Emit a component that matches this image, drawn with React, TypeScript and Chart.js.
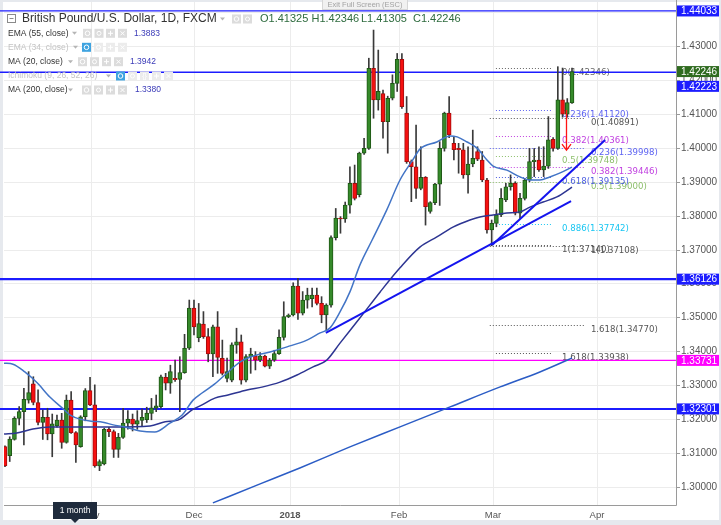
import { useEffect, useRef } from "react";
import { Chart, registerables } from "chart.js";
Chart.register(...registerables);

// ---------- DATA ----------
const opens = [
  1.3119, 1.3092, 1.3140, 1.3202, 1.3222, 1.3256, 1.3304, 1.3249, 1.3190, 1.3205,
  1.3156, 1.3180, 1.3197, 1.3131, 1.3256, 1.3160, 1.3119, 1.3207, 1.3284, 1.3242,
  1.3062, 1.3068, 1.3170, 1.3163, 1.3111, 1.3146, 1.3188, 1.3200, 1.3185, 1.3196,
  1.3198, 1.3217, 1.3232, 1.3237, 1.3323, 1.3306, 1.3320, 1.3317, 1.3337, 1.3409,
  1.3527, 1.3440, 1.3480, 1.3443, 1.3392, 1.3472, 1.3379, 1.3320, 1.3315, 1.3418,
  1.3428, 1.3315, 1.3384, 1.3386, 1.3374, 1.3386, 1.3356, 1.3374, 1.3393, 1.3441,
  1.3502, 1.3507, 1.3592, 1.3512, 1.3551, 1.3555, 1.3566, 1.3541, 1.3507, 1.3536,
  1.3735, 1.3793, 1.3790, 1.3831, 1.3895, 1.3862, 1.3984, 1.3998, 1.4234, 1.4141,
  1.4160, 1.4077, 1.4146, 1.4190, 1.4261, 1.4102, 1.3959, 1.3944, 1.3880, 1.3913,
  1.3812, 1.3838, 1.3893, 1.3998, 1.4102, 1.4013, 1.3998, 1.3994, 1.3920, 1.3952,
  1.3989, 1.3964, 1.3905, 1.3758, 1.3777, 1.3802, 1.3846, 1.3885, 1.3895, 1.3807,
  1.3851, 1.3905, 1.3959, 1.3964, 1.3935, 1.3946, 1.4025, 1.3998, 1.4141, 1.4099,
  1.41325,
];
const highs = [
  1.3121, 1.3148, 1.3207, 1.3237, 1.3291, 1.3340, 1.3325, 1.3286, 1.3227, 1.3232,
  1.3215, 1.3212, 1.3217, 1.3271, 1.3281, 1.3163, 1.3210, 1.3290, 1.3323, 1.3301,
  1.3080, 1.3173, 1.3176, 1.3168, 1.3158, 1.3232, 1.3225, 1.3215, 1.3225, 1.3230,
  1.3235, 1.3261, 1.3271, 1.3330, 1.3335, 1.3359, 1.3374, 1.3384, 1.3450, 1.3551,
  1.3551, 1.3541, 1.3517, 1.3467, 1.3477, 1.3517, 1.3433, 1.3380, 1.3425, 1.3468,
  1.3448, 1.3390, 1.3409, 1.3399, 1.3396, 1.3389, 1.3379, 1.3403, 1.3463, 1.3546,
  1.3510, 1.3602, 1.3615, 1.3576, 1.3586, 1.3586, 1.3586, 1.3561, 1.3540, 1.3740,
  1.3821, 1.3797, 1.3840, 1.3944, 1.3949, 1.3987, 1.4028, 1.4264, 1.4347, 1.4288,
  1.4170, 1.4152, 1.4215, 1.4278, 1.4278, 1.4151, 1.3964, 1.4067, 1.4003, 1.3915,
  1.3841, 1.3895, 1.4018, 1.4105, 1.4151, 1.4033, 1.4013, 1.4013, 1.4003, 1.4052,
  1.4003, 1.3989, 1.3910, 1.3787, 1.3817, 1.3880, 1.3895, 1.3920, 1.3900, 1.3866,
  1.3910, 1.3998, 1.3998, 1.4003, 1.4003, 1.4092, 1.4030, 1.4239, 1.4235, 1.4145,
  1.42346,
];
const lows = [
  1.3060, 1.3075, 1.3138, 1.3183, 1.3124, 1.3247, 1.3242, 1.3183, 1.3140, 1.3139,
  1.3089, 1.3176, 1.3114, 1.3129, 1.3158, 1.3072, 1.3117, 1.3195, 1.3240, 1.3058,
  1.3048, 1.3065, 1.3148, 1.3087, 1.3087, 1.3143, 1.3170, 1.3165, 1.3170, 1.3180,
  1.3190, 1.3198, 1.3222, 1.3232, 1.3286, 1.3276, 1.3311, 1.3222, 1.3335, 1.3405,
  1.3448, 1.3428, 1.3438, 1.3369, 1.3325, 1.3335, 1.3330, 1.3310, 1.3310, 1.3394,
  1.3303, 1.3310, 1.3335, 1.3345, 1.3369, 1.3354, 1.3349, 1.3370, 1.3391, 1.3433,
  1.3499, 1.3504, 1.3494, 1.3507, 1.3527, 1.3531, 1.3537, 1.3484, 1.3463, 1.3530,
  1.3728, 1.3748, 1.3780, 1.3807, 1.3846, 1.3855, 1.3980, 1.3995, 1.4087, 1.4111,
  1.4028, 1.3984, 1.4141, 1.4166, 1.4116, 1.3954, 1.3841, 1.3851, 1.3876, 1.3772,
  1.3807, 1.3832, 1.3830, 1.3990, 1.4030, 1.3964, 1.3925, 1.3910, 1.3866, 1.3944,
  1.3962, 1.3900, 1.3748, 1.3711, 1.3767, 1.3797, 1.3841, 1.3875, 1.3802, 1.3792,
  1.3846, 1.3900, 1.3915, 1.3930, 1.3915, 1.3939, 1.3990, 1.3995, 1.4090, 1.4090,
  1.41305,
];
const closes = [
  1.3062, 1.3141, 1.3202, 1.3222, 1.3258, 1.3278, 1.3249, 1.3190, 1.3205, 1.3156,
  1.3186, 1.3197, 1.3131, 1.3256, 1.3160, 1.3124, 1.3207, 1.3284, 1.3242, 1.3062,
  1.3075, 1.3170, 1.3163, 1.3111, 1.3146, 1.3188, 1.3200, 1.3185, 1.3196, 1.3205,
  1.3218, 1.3233, 1.3239, 1.3325, 1.3306, 1.3340, 1.3316, 1.3337, 1.3409, 1.3527,
  1.3472, 1.3482, 1.3443, 1.3392, 1.3472, 1.3382, 1.3335, 1.3340, 1.3419, 1.3428,
  1.3315, 1.3384, 1.3392, 1.3374, 1.3386, 1.3356, 1.3374, 1.3393, 1.3441, 1.3502,
  1.3507, 1.3592, 1.3512, 1.3551, 1.3566, 1.3566, 1.3541, 1.3507, 1.3536, 1.3735,
  1.3793, 1.3790, 1.3831, 1.3895, 1.3851, 1.3984, 1.3998, 1.4234, 1.4141, 1.4166,
  1.4077, 1.4146, 1.4190, 1.4261, 1.4121, 1.3959, 1.3944, 1.3880, 1.3913, 1.3826,
  1.3838, 1.3893, 1.3998, 1.4102, 1.4038, 1.3994, 1.3994, 1.3920, 1.3952, 1.3969,
  1.3966, 1.3905, 1.3758, 1.3777, 1.3802, 1.3851, 1.3885, 1.3895, 1.3807, 1.3851,
  1.3905, 1.3959, 1.3964, 1.3935, 1.3946, 1.4023, 1.3998, 1.4141, 1.4099, 1.4133,
  1.42246,
];

const ma20Idx = [-0.2, 1.7, 4.2, 6.8, 9.5, 12.1, 13.8, 15.9, 18.4, 20.7, 22.9, 25.4, 28.6, 31.7, 34.9, 37.5, 39.8, 41.7, 44.4, 47.0, 49.7, 51.9, 56.1, 59.7, 63.9, 66.7, 68.8, 70.9, 73.0, 75.1, 77.7, 80.8, 83.6, 86.3, 87.8, 91.4, 94.2, 95.7, 97.8, 99.9, 102.0, 103.3, 106.2, 109.0, 111.1, 113.2, 115.3, 117.5, 120.0];
const ma20Val = [1.3365, 1.3362, 1.3339, 1.3307, 1.3265, 1.3233, 1.3212, 1.3200, 1.3194, 1.3191, 1.3183, 1.3177, 1.3165, 1.3162, 1.3188, 1.3212, 1.3256, 1.3277, 1.3304, 1.3336, 1.3368, 1.3383, 1.3398, 1.3413, 1.3433, 1.3454, 1.3469, 1.3516, 1.3575, 1.3654, 1.3728, 1.3817, 1.3905, 1.3964, 1.3996, 1.4017, 1.4035, 1.4032, 1.4017, 1.3999, 1.3964, 1.3946, 1.3934, 1.3914, 1.3905, 1.3905, 1.3914, 1.3926, 1.3943];

const ema55Idx = [-0.2, 2.5, 5.9, 9.5, 15.9, 22.9, 30.7, 33.9, 36.6, 39.6, 41.7, 44.4, 47.2, 51.2, 54.6, 58.2, 61.8, 65.2, 68.1, 70.9, 75.1, 79.4, 83.6, 87.8, 91.4, 94.8, 98.4, 100.5, 103.3, 106.2, 109.0, 111.1, 113.9, 116.8, 120.0];
const ema55Val = [1.3156, 1.3159, 1.3171, 1.3177, 1.3177, 1.3177, 1.3180, 1.3192, 1.3197, 1.3227, 1.3242, 1.3262, 1.3271, 1.3286, 1.3295, 1.3309, 1.3330, 1.3354, 1.3374, 1.3424, 1.3498, 1.3575, 1.3646, 1.3707, 1.3737, 1.3766, 1.3787, 1.3796, 1.3802, 1.3808, 1.3811, 1.3825, 1.3840, 1.3855, 1.3884];

const ma200Idx = [44.0, 54.0, 62.4, 73.0, 83.6, 94.2, 104.8, 113.2, 120.0];
const ma200Val = [1.2953, 1.3009, 1.3056, 1.3118, 1.3177, 1.3236, 1.3295, 1.3339, 1.3380];

const trend1Idx = [67.9, 119.8];
const trend1Val = [1.3454, 1.3843];
const trend2Idx = [103.1, 127.0];
const trend2Val = [1.3713, 1.4023];

const levelValues = [1.44033, 1.42223, 1.36126, 1.33731, 1.32301];
const levelColors = ["#1c1cff", "#1c1cff", "#1c1cff", "#ff00ff", "#1c1cff"];
const levelWidths = [1.2, 1.5, 2.2, 1.2, 2];
const levelLabelShift = [0, 14, 0, 0, 0];

const priceTicks = [1.30, 1.31, 1.32, 1.33, 1.34, 1.35, 1.36, 1.37, 1.38, 1.39, 1.40, 1.41, 1.42, 1.43, 1.44];
const tickLabelPrices = [1.30, 1.31, 1.32, 1.33, 1.34, 1.35, 1.36, 1.37, 1.38, 1.39, 1.40, 1.41, 1.42, 1.43];
const monthPos = [18.2, 40.0, 60.32, 83.39, 103.28, 125.29];
const monthLabels = ["Nov", "Dec", "2018", "Feb", "Mar", "Apr"];

const fibARatios = ["0", "0.236", "0.382", "0.5", "0.618", "0.886", "1", "1.618"];
const fibAPrices = [1.42346, 1.4112, 1.40361, 1.39748, 1.39135, 1.37742, 1.3714, 1.33938];
const fibAColors = ["#666666", "#5d63f2", "#c040e0", "#8cbf6a", "#4d5fe0", "#18c6f2", "#555555", "#555555"];
const fibARange = [103.9, 115.8, 117.9];
const fibBRatios = ["0", "0.236", "0.382", "0.5", "1", "1.618"];
const fibBPrices = [1.40891, 1.39998, 1.39446, 1.39, 1.37108, 1.3477];
const fibBColors = ["#555555", "#5d63f2", "#c040e0", "#8cbf6a", "#555555", "#555555"];
const fibBRange = [102.6, 122.8, 124.0];

const arrowIdx = 118.7;
const arrowFrom = 1.4111;
const arrowTo = 1.3993;

const legendRows = [
  { text: "EMA (55, close)", value: "1.3883" },
  { text: "EMA (34, close)", value: "" },
  { text: "MA (20, close)", value: "1.3942" },
  { text: "Ichimoku (9, 26, 52, 26)", value: "" },
  { text: "MA (200, close)", value: "1.3380" },
];
const ohlcLabels = ["O1.41325", "H1.42346", "L1.41305", "C1.42246"];

// ---------- HELPERS ----------
const SANS = "'Liberation Sans', Arial, sans-serif";
const VERD = "'DejaVu Sans', Verdana, sans-serif";

function sq(ctx: CanvasRenderingContext2D, x: number, yc: number, fill: string, glyph: string) {
  ctx.fillStyle = fill;
  ctx.fillRect(x, yc - 4.5, 9, 9);
  ctx.strokeStyle = "#fff";
  ctx.fillStyle = "#fff";
  ctx.lineWidth = 1;
  const cx = x + 4.5;
  ctx.beginPath();
  if (glyph === "eye") {
    ctx.arc(cx, yc, 2.3, 0, Math.PI * 2);
    ctx.stroke();
  } else if (glyph === "gear") {
    ctx.arc(cx, yc, 2, 0, Math.PI * 2);
    ctx.stroke();
  } else if (glyph === "plus") {
    ctx.moveTo(cx - 2.5, yc);
    ctx.lineTo(cx + 2.5, yc);
    ctx.moveTo(cx, yc - 2.5);
    ctx.lineTo(cx, yc + 2.5);
    ctx.stroke();
  } else if (glyph === "x") {
    ctx.moveTo(cx - 2, yc - 2);
    ctx.lineTo(cx + 2, yc + 2);
    ctx.moveTo(cx + 2, yc - 2);
    ctx.lineTo(cx - 2, yc + 2);
    ctx.stroke();
  } else if (glyph === "brace") {
    ctx.font = `7px ${SANS}`;
    ctx.textAlign = "center";
    ctx.textBaseline = "middle";
    ctx.fillText("{}", cx, yc);
  }
}

function caret(ctx: CanvasRenderingContext2D, x: number, yc: number) {
  ctx.fillStyle = "#b5b5b5";
  ctx.beginPath();
  ctx.moveTo(x, yc - 1.5);
  ctx.lineTo(x + 5, yc - 1.5);
  ctx.lineTo(x + 2.5, yc + 1.5);
  ctx.closePath();
  ctx.fill();
}

const overlay = {
  id: "overlay",
  beforeDraw(chart: any) {
    const ctx = chart.ctx as CanvasRenderingContext2D;
    ctx.save();
    ctx.fillStyle = "#ffffff";
    ctx.fillRect(0, 0, 721, 525);
    ctx.fillStyle = "#e6e9ee";
    ctx.fillRect(0, 0, 3, 525);
    ctx.fillRect(0, 0, 721, 2);
    ctx.fillRect(0, 520, 721, 5);
    ctx.fillRect(719, 0, 2, 525);
    ctx.restore();
  },
  beforeDatasetsDraw(chart: any) {
    const ctx = chart.ctx as CanvasRenderingContext2D;
    const a = chart.chartArea;
    const xs = chart.scales.x;
    const ys = chart.scales.y;
    ctx.save();
    ctx.beginPath();
    ctx.rect(a.left, a.top, a.right - a.left, a.bottom - a.top);
    ctx.clip();
    ctx.strokeStyle = "#ececec";
    ctx.lineWidth = 1;
    priceTicks.forEach((p) => {
      const y = Math.round(ys.getPixelForValue(p)) + 0.5;
      ctx.beginPath();
      ctx.moveTo(a.left, y);
      ctx.lineTo(a.right, y);
      ctx.stroke();
    });
    monthPos.forEach((m) => {
      const x = Math.round(xs.getPixelForValue(m)) + 0.5;
      ctx.beginPath();
      ctx.moveTo(x, a.top);
      ctx.lineTo(x, a.bottom);
      ctx.stroke();
    });
    const drawFib = (ratios: string[], prices: number[], colors: string[], range: number[]) => {
      const x0 = xs.getPixelForValue(range[0]);
      const x1 = xs.getPixelForValue(range[1]);
      const xl = xs.getPixelForValue(range[2]);
      ratios.forEach((r, i) => {
        const y = Math.round(ys.getPixelForValue(prices[i])) + 0.5;
        ctx.strokeStyle = colors[i];
        ctx.setLineDash([1, 2]);
        ctx.lineWidth = 1;
        ctx.beginPath();
        ctx.moveTo(x0, y);
        ctx.lineTo(x1, y);
        ctx.stroke();
        ctx.setLineDash([]);
        ctx.fillStyle = colors[i];
        ctx.font = `8.6px ${VERD}`;
        ctx.textAlign = "left";
        ctx.textBaseline = "middle";
        ctx.fillText(`${r}(${prices[i].toFixed(5)})`, xl, y + 4.5);
      });
    };
    drawFib(fibBRatios, fibBPrices, fibBColors, fibBRange);
    drawFib(fibARatios, fibAPrices, fibAColors, fibARange);
    ctx.restore();
    ctx.save();
    levelValues.forEach((v, i) => {
      const y = ys.getPixelForValue(v);
      ctx.strokeStyle = levelColors[i];
      ctx.lineWidth = levelWidths[i];
      ctx.beginPath();
      ctx.moveTo(0, y);
      ctx.lineTo(a.right, y);
      ctx.stroke();
    });
    ctx.restore();
  },
  afterDatasetsDraw(chart: any) {
    const ctx = chart.ctx as CanvasRenderingContext2D;
    const xs = chart.scales.x;
    const ys = chart.scales.y;
    const x = Math.round(xs.getPixelForValue(arrowIdx)) + 0.5;
    const y0 = ys.getPixelForValue(arrowFrom);
    const y1 = ys.getPixelForValue(arrowTo);
    ctx.save();
    ctx.strokeStyle = "#ff1414";
    ctx.lineWidth = 1.3;
    ctx.beginPath();
    ctx.moveTo(x, y0);
    ctx.lineTo(x, y1);
    ctx.moveTo(x - 4.5, y1 - 6);
    ctx.lineTo(x, y1);
    ctx.lineTo(x + 4.5, y1 - 6);
    ctx.stroke();
    ctx.restore();
  },
  afterDraw(chart: any) {
    const ctx = chart.ctx as CanvasRenderingContext2D;
    const a = chart.chartArea;
    const xs = chart.scales.x;
    const ys = chart.scales.y;
    ctx.save();
    ctx.strokeStyle = "#9a9a9a";
    ctx.lineWidth = 1;
    ctx.beginPath();
    ctx.moveTo(a.right + 0.5, 0);
    ctx.lineTo(a.right + 0.5, a.bottom + 0.5);
    ctx.lineTo(a.left, a.bottom + 0.5);
    ctx.stroke();
    ctx.font = `10px ${SANS}`;
    ctx.textAlign = "left";
    ctx.textBaseline = "middle";
    tickLabelPrices.forEach((p) => {
      const y = Math.round(ys.getPixelForValue(p)) + 0.5;
      ctx.strokeStyle = "#9a9a9a";
      ctx.beginPath();
      ctx.moveTo(a.right, y);
      ctx.lineTo(a.right + 4, y);
      ctx.stroke();
      ctx.fillStyle = "#555";
      ctx.fillText(p.toFixed(5), a.right + 5, y);
    });
    const box = (v: number, color: string, shift: number) => {
      const y = ys.getPixelForValue(v) + shift;
      ctx.fillStyle = color;
      ctx.fillRect(a.right + 1, y - 5.5, 42, 11);
      ctx.fillStyle = "#fff";
      ctx.font = `10px ${SANS}`;
      ctx.textAlign = "left";
      ctx.textBaseline = "middle";
      ctx.fillText(v.toFixed(5), a.right + 5, y + 0.5);
    };
    levelValues.forEach((v, i) => {
      if (i !== 1) box(v, levelColors[i], levelLabelShift[i]);
    });
    box(closes[closes.length - 1], "#2f6b1f", 0);
    box(levelValues[1], levelColors[1], levelLabelShift[1]);
    // x labels
    ctx.textAlign = "center";
    ctx.textBaseline = "middle";
    monthPos.forEach((m, i) => {
      const x = xs.getPixelForValue(m);
      ctx.font = monthLabels[i] === "2018" ? `bold 9.5px ${SANS}` : `9.5px ${SANS}`;
      ctx.fillStyle = "#555";
      ctx.fillText(monthLabels[i], x, 515);
    });
    // tooltip "1 month"
    ctx.fillStyle = "#1f2b3c";
    ctx.fillRect(53, 502, 44, 17);
    ctx.beginPath();
    ctx.moveTo(71, 519);
    ctx.lineTo(79, 519);
    ctx.lineTo(75, 523);
    ctx.closePath();
    ctx.fill();
    ctx.fillStyle = "#fff";
    ctx.font = `8.5px ${SANS}`;
    ctx.fillText("1 month", 75, 510.5);
    // exit full screen
    ctx.fillStyle = "#f1f1f1";
    ctx.fillRect(322, 0, 86, 10);
    ctx.strokeStyle = "#d6d6d6";
    ctx.strokeRect(322.5, -0.5, 85, 10);
    ctx.fillStyle = "#a3a3a3";
    ctx.font = `7.5px ${SANS}`;
    ctx.fillText("Exit Full Screen (ESC)", 365, 5);
    // legend title
    ctx.strokeStyle = "#8a8a8a";
    ctx.strokeRect(7.5, 14.5, 8, 8);
    ctx.beginPath();
    ctx.moveTo(9.5, 18.5);
    ctx.lineTo(13.5, 18.5);
    ctx.stroke();
    ctx.textAlign = "left";
    ctx.fillStyle = "#333";
    ctx.font = `12px ${SANS}`;
    ctx.fillText("British Pound/U.S. Dollar, 1D, FXCM", 22, 19);
    caret(ctx, 220, 19);
    sq(ctx, 232, 19, "#dcdcdc", "eye");
    sq(ctx, 243, 19, "#dcdcdc", "gear");
    ctx.font = `11px ${SANS}`;
    ctx.fillStyle = "#2e6b3e";
    const ohlcX = [260, 311.5, 361, 413];
    ohlcLabels.forEach((t, i) => ctx.fillText(t, ohlcX[i], 19));
    const rowY = [33.3, 47.3, 61.7, 76, 90];
    const rowFaded = [false, true, false, true, false];
    const caretX = [72, 73, 68, 106, 68];
    const iconX = [
      [83, 94.5, 106, 118],
      [82, 94, 106, 118],
      [78, 90, 102, 114],
      [116, 128, 140, 152, 164],
      [82, 94, 106, 118],
    ];
    const valueX = [134, 0, 130, 0, 135];
    legendRows.forEach((r, i) => {
      const y = rowY[i];
      ctx.font = `8.5px ${SANS}`;
      ctx.textAlign = "left";
      ctx.textBaseline = "middle";
      ctx.fillStyle = rowFaded[i] ? "#c4c4c4" : "#333";
      ctx.fillText(r.text, 8, y);
      caret(ctx, caretX[i], y);
      const glyphs = iconX[i].length === 5 ? ["eye", "gear", "brace", "plus", "x"] : ["eye", "gear", "plus", "x"];
      iconX[i].forEach((ix, k) => {
        let fill = rowFaded[i] ? "#ececec" : "#dcdcdc";
        if (rowFaded[i] && k === 0) fill = "#3ea3e0";
        sq(ctx, ix, y, fill, glyphs[k]);
      });
      if (r.value) {
        ctx.font = `8.5px ${SANS}`;
        ctx.fillStyle = "#3b3bb8";
        ctx.fillText(r.value, valueX[i], y);
      }
    });
    ctx.restore();
  },
};

export default function App() {
  const ref = useRef<HTMLCanvasElement>(null);
  useEffect(() => {
    document.body.style.margin = "0";
    const canvas = ref.current!;
    const n = opens.length;
    const idx = Array.from({ length: n }, (_, i) => i);
    const up = (i: number) => closes[i] >= opens[i];
    const chart = new Chart(canvas, {
      type: "bar",
      data: {
        datasets: [
          {
            type: "bar",
            data: idx.map((i) => ({ x: i, y: [lows[i], highs[i]] })) as any,
            backgroundColor: "#3a3a3a",
            barThickness: 1,
            grouped: false,
            order: 6,
          } as any,
          {
            type: "bar",
            data: idx.map((i) => ({ x: i, y: [opens[i], closes[i]] })) as any,
            backgroundColor: (c: any) => (up(c.dataIndex) ? "#358a2a" : "#f51010"),
            borderColor: (c: any) => (up(c.dataIndex) ? "#1f5716" : "#a30d0d"),
            borderWidth: 1,
            borderSkipped: false,
            barThickness: 4,
            minBarLength: 1,
            grouped: false,
            order: 5,
          } as any,
          {
            type: "line",
            data: ma200Idx.map((x, i) => ({ x, y: ma200Val[i] })),
            borderColor: "#2b5cc5",
            borderWidth: 1.5,
            pointRadius: 0,
            cubicInterpolationMode: "monotone",
            order: 4,
          } as any,
          {
            type: "line",
            data: ema55Idx.map((x, i) => ({ x, y: ema55Val[i] })),
            borderColor: "#2d3592",
            borderWidth: 1.5,
            pointRadius: 0,
            cubicInterpolationMode: "monotone",
            order: 3,
          } as any,
          {
            type: "line",
            data: ma20Idx.map((x, i) => ({ x, y: ma20Val[i] })),
            borderColor: "#4274c6",
            borderWidth: 1.5,
            pointRadius: 0,
            cubicInterpolationMode: "monotone",
            order: 2,
          } as any,
          {
            type: "line",
            data: trend1Idx.map((x, i) => ({ x, y: trend1Val[i] })),
            borderColor: "#1414ee",
            borderWidth: 2,
            pointRadius: 0,
            order: 1,
          } as any,
          {
            type: "line",
            data: trend2Idx.map((x, i) => ({ x, y: trend2Val[i] })),
            borderColor: "#1414ee",
            borderWidth: 2,
            pointRadius: 0,
            order: 1,
          } as any,
        ],
      },
      options: {
        responsive: false,
        devicePixelRatio: 1,
        animation: false,
        events: [],
        layout: { padding: { left: 4, right: 45, top: 2, bottom: 20 } },
        scales: {
          x: { type: "linear", min: -0.21, max: 142.01, display: false, offset: false },
          y: { type: "linear", min: 1.29468, max: 1.44297, display: false },
        },
        plugins: { legend: { display: false }, tooltip: { enabled: false } },
      } as any,
      plugins: [overlay as any],
    });
    return () => chart.destroy();
  }, []);
  return <canvas ref={ref} width={721} height={525} style={{ display: "block", width: 721, height: 525 }} />;
}
